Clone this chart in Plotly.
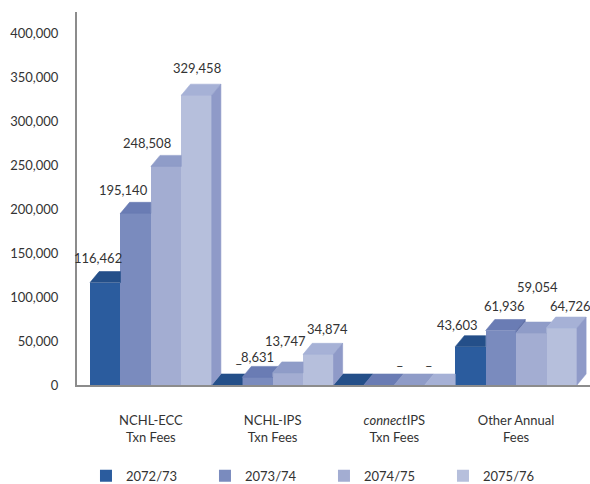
import plotly.graph_objects as go

# ---------------- data ----------------
categories = ["NCHL-ECC<br>Txn Fees", "NCHL-IPS<br>Txn Fees",
              "<i>connect</i>IPS<br>Txn Fees", "Other Annual<br>Fees"]
years = ["2072/73", "2073/74", "2074/75", "2075/76"]
fy_2072_73 = [116462, 0, 0, 43603]
fy_2073_74 = [195140, 8631, 0, 61936]
fy_2074_75 = [248508, 13747, 0, 59054]
fy_2075_76 = [329458, 34874, 0, 64726]
series = [fy_2072_73, fy_2073_74, fy_2074_75, fy_2075_76]
# which data labels Excel displayed
show_label = [[True, True, False, True],
              [True, True, False, True],
              [True, True, True, True],
              [True, True, True, True]]
y_ticks = [0, 50000, 100000, 150000, 200000, 250000, 300000, 350000, 400000]

# ---------------- style ----------------
FONT = "Lato"
TXT = "#333333"
front = ["#2B5C9E", "#7A8BBE", "#A3ADD2", "#B6BFDC"]
top = ["#244F89", "#6A7CB4", "#8F9CC8", "#A6B1D6"]
side = ["#21467A", "#5E6FA6", "#8491C0", "#8F9AC8"]
BAR_W = 0.25          # group width 1 split in 4
DX = 0.075            # depth offset in x-units
DY = 12500            # depth offset in y-units
YMAX = 424000
XR = [-0.607, 3.607]
# label nudges (px) relative to bar centre / front top
nudge = [[(-7, -24.5), (12, -21), (0, 0), (-13, -21.6)],
         [(-12, -23), (0.5, -20), (0, 0), (4, -24.5)],
         [(-19, -23), (-2, -32), (-9.5, -19), (6, -46)],
         [(0, -27), (9.5, -25), (-11, -19), (9, -22)]]

fig = go.Figure()

# front faces as real bars
for s, vals in enumerate(series):
    fig.add_trace(go.Bar(
        x=list(range(len(categories))), y=vals, name=years[s],
        marker=dict(color=front[s], line=dict(width=0)),
        hoverinfo="x+y"))

# 3-D top / side faces computed from the data
seq = []
for c in range(len(categories)):
    for s in range(len(series)):
        l = c - 0.5 + s * BAR_W
        seq.append((s, l, l + BAR_W, series[s][c]))

tops = {s: ([], []) for s in range(4)}
sides = {s: ([], []) for s in range(4)}
for i, (s, l, r, h) in enumerate(seq):
    nh = seq[i + 1][3] if i + 1 < len(seq) else 0
    f = 0.0
    if i + 1 < len(seq) and nh > h:
        f = min(1.0, (nh - h) / DY)
    xs = [l, r, r, r + DX * (1 - f), l + DX, l, None]
    ys = [h, h, h + f * DY, h + DY, h + DY, h, None]
    tops[s][0].extend(xs)
    tops[s][1].extend(ys)
    if h > nh:
        sides[s][0].extend([r, r, r + DX, r + DX, r, None])
        sides[s][1].extend([nh, h, h + DY, nh + DY, nh, None])

for s in range(4):
    for faces, col in ((tops, top[s]), (sides, side[s])):
        if faces[s][0]:
            fig.add_trace(go.Scatter(
                x=faces[s][0], y=faces[s][1], mode="lines", fill="toself",
                fillcolor=col, line=dict(color=col, width=0.6),
                hoverinfo="skip", showlegend=False))

# data labels
for s, vals in enumerate(series):
    for c, v in enumerate(vals):
        if not show_label[s][c]:
            continue
        dx, dy = nudge[s][c]
        fig.add_annotation(
            x=c - 0.5 + (s + 0.5) * BAR_W, y=v, xref="x", yref="y",
            text=f"{v:,}" if v else "–", showarrow=False,
            xanchor="center", yanchor="middle", xshift=dx, yshift=-dy,
            font=dict(family=FONT, size=13, color=TXT))

fig.update_layout(
    width=590, height=484,
    margin=dict(l=77, r=0, t=12, b=99, autoexpand=False),
    paper_bgcolor="white", plot_bgcolor="white",
    barmode="group", bargap=0, bargroupgap=0,
    font=dict(family=FONT, size=13, color=TXT),
    showlegend=True,
    legend=dict(orientation="h", x=0.0175, xanchor="left",
                xref="paper", yref="container", y=0.017,
                yanchor="middle", entrywidth=74, entrywidthmode="pixels",
                font=dict(family=FONT, size=13, color=TXT),
                traceorder="normal"),
    xaxis=dict(range=XR, tickmode="array",
               tickvals=list(range(len(categories))), ticktext=categories,
               showgrid=False, zeroline=False, showline=True,
               linecolor="#8C8C8C", linewidth=2, ticks="",
               ticklabelstandoff=22, automargin=False,
               tickfont=dict(family=FONT, size=13, color=TXT)),
    yaxis=dict(range=[0, YMAX], tickmode="array", tickvals=y_ticks,
               tickformat=",d", showgrid=False, zeroline=False,
               showline=True, linecolor="#8C8C8C", linewidth=2, ticks="",
               ticklabelstandoff=14, automargin=False,
               tickfont=dict(family=FONT, size=13, color=TXT)),
)

fig.write_html("out.html")
